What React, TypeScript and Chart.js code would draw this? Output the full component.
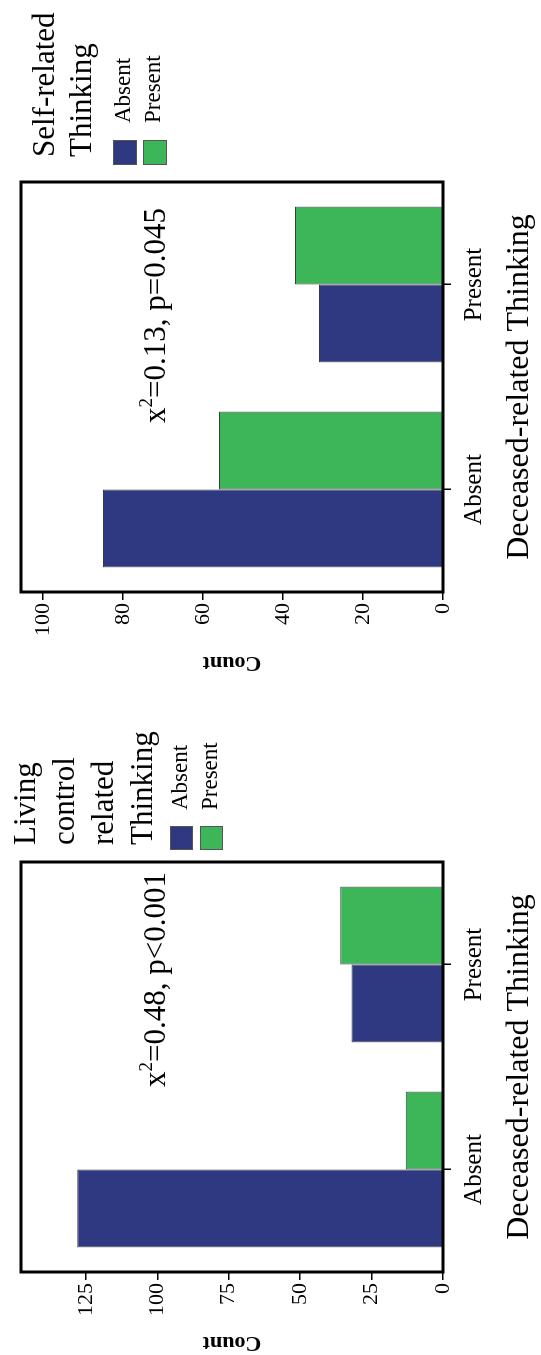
import React, { useEffect, useRef } from 'react';
import { Chart, registerables } from 'chart.js';

Chart.register(...registerables);

// ---------- data ----------
const categories = ['Absent', 'Present'];
const legendLabels = ['Absent', 'Present'];

const selfAbsentCounts = [85, 31];
const selfPresentCounts = [56, 37];
const selfTicks = [0, 20, 40, 60, 80, 100];
const selfAxisMax = 105.5;
const selfLegendTitle = ['Self-related', 'Thinking'];
const selfChi = '0.13';
const selfP = 'p=0.045';

const livingAbsentCounts = [128, 32];
const livingPresentCounts = [13, 36];
const livingTicks = [0, 25, 50, 75, 100, 125];
const livingAxisMax = 147.7;
const livingLegendTitle = ['Living', 'control', 'related', 'Thinking'];
const livingChi = '0.48';
const livingP = 'p<0.001';

const xAxisTitle = 'Deceased-related Thinking';
const yAxisTitle = 'Count';

// ---------- style ----------
const BLUE = '#2f3981';
const GREEN = '#3db65a';
const FONT = '"Liberation Serif", "Times New Roman", serif';
const W = 680;
const H = 541;

Chart.defaults.font.family = FONT;
Chart.defaults.color = '#000';

const framePlugin = {
  id: 'frame',
  afterDatasetsDraw(chart: any) {
    const { ctx, chartArea: a } = chart;
    ctx.save();
    ctx.strokeStyle = '#000';
    ctx.lineWidth = 3;
    ctx.strokeRect(a.left, a.top, a.right - a.left, a.bottom - a.top);
    ctx.restore();
  },
};

const legendPlugin = {
  id: 'customLegend',
  afterDraw(chart: any, _args: any, o: any) {
    const ctx = chart.ctx;
    ctx.save();
    ctx.fillStyle = '#000';
    ctx.textAlign = 'left';
    ctx.textBaseline = 'alphabetic';
    ctx.font = `${o.titleSize}px ${FONT}`;
    (o.title as string[]).forEach((line: string, i: number) => {
      ctx.fillText(line, o.titleX, o.titleBaseline + i * o.titleGap);
    });
    chart.data.datasets.forEach((ds: any, i: number) => {
      const top = o.itemTop + i * o.itemGap;
      ctx.fillStyle = ds.backgroundColor;
      ctx.fillRect(o.boxX, top, o.boxW, o.boxH);
      ctx.strokeStyle = '#555';
      ctx.lineWidth = 1;
      ctx.strokeRect(o.boxX + 0.5, top + 0.5, o.boxW - 1, o.boxH - 1);
      ctx.fillStyle = '#000';
      ctx.font = `${o.labelSize}px ${FONT}`;
      ctx.fillText(ds.label, o.labelX, top + o.labelDy);
    });
    ctx.restore();
  },
};

const statPlugin = {
  id: 'statText',
  afterDraw(chart: any, _args: any, o: any) {
    const ctx = chart.ctx;
    ctx.save();
    ctx.fillStyle = '#000';
    ctx.textAlign = 'left';
    ctx.textBaseline = 'alphabetic';
    const big = `${o.size}px ${FONT}`;
    const small = `${Math.round(o.size * 0.62)}px ${FONT}`;
    const rest = '=' + o.chi + ', ' + o.p;
    ctx.font = big;
    const w1 = ctx.measureText('x').width;
    const w3 = ctx.measureText(rest).width;
    ctx.font = small;
    const w2 = ctx.measureText('2').width;
    const x0 = o.right - (w1 + w2 + w3);
    ctx.font = big;
    ctx.fillText('x', x0, o.baseline);
    ctx.font = small;
    ctx.fillText('2', x0 + w1, o.baseline - o.size * 0.42);
    ctx.font = big;
    ctx.fillText(rest, x0 + w1 + w2, o.baseline);
    ctx.restore();
  },
};

type PanelProps = {
  absent: number[];
  present: number[];
  ticks: number[];
  max: number;
  legendTitle: string[];
  legendOpts: any;
  chi: string;
  p: string;
  statOpts: any;
  top: number;
};

function Panel(props: PanelProps) {
  const ref = useRef<HTMLCanvasElement>(null);
  useEffect(() => {
    const tickValues = props.ticks;
    const chart = new Chart(ref.current as HTMLCanvasElement, {
      type: 'bar',
      data: {
        labels: categories,
        datasets: [
          {
            label: legendLabels[0],
            data: props.absent,
            backgroundColor: BLUE,
            borderColor: '#3a3a3a',
            borderWidth: 1,
            barPercentage: 1,
            categoryPercentage: 0.76,
          },
          {
            label: legendLabels[1],
            data: props.present,
            backgroundColor: GREEN,
            borderColor: '#3a3a3a',
            borderWidth: 1,
            barPercentage: 1,
            categoryPercentage: 0.76,
          },
        ],
      },
      options: {
        responsive: false,
        animation: false,
        devicePixelRatio: 1,
        layout: { padding: { top: 21, right: 182, bottom: 0, left: 0 } },
        plugins: {
          legend: { display: false },
          tooltip: { enabled: false },
          customLegend: { title: props.legendTitle, ...props.legendOpts },
          statText: { chi: props.chi, p: props.p, ...props.statOpts },
        } as any,
        scales: {
          x: {
            type: 'category',
            offset: true,
            grid: {
              offset: false,
              drawOnChartArea: false,
              drawTicks: true,
              tickLength: 8,
              color: '#000',
              lineWidth: 1.5,
            },
            border: { display: false },
            ticks: { font: { size: 25, lineHeight: 1 }, color: '#000', padding: 11 },
            title: {
              display: true,
              text: xAxisTitle,
              font: { size: 32, lineHeight: 1 },
              color: '#000',
              padding: { top: 0, bottom: 5 },
            },
            afterFit: (s: any) => {
              s.height = 98;
            },
          },
          y: {
            min: 0,
            max: props.max,
            afterBuildTicks: (s: any) => {
              s.ticks = tickValues.map((v) => ({ value: v }));
            },
            grid: {
              drawOnChartArea: false,
              drawTicks: true,
              tickLength: 8,
              color: '#000',
              lineWidth: 1.5,
            },
            border: { display: false },
            ticks: { font: { size: 22 }, color: '#000', padding: 3 },
            title: {
              display: true,
              text: yAxisTitle,
              font: { size: 22, weight: 'bold', lineHeight: 1 },
              color: '#000',
              padding: { top: 6.5, bottom: 0 },
            },
            afterFit: (s: any) => {
              s.width = 88;
            },
          },
        } as any,
      },
      plugins: [framePlugin, legendPlugin, statPlugin],
    });
    return () => chart.destroy();
  }, []);
  return (
    <div
      style={{
        position: 'absolute',
        left: 0,
        top: props.top,
        width: W,
        height: H,
        transformOrigin: '0 0',
        transform: `translateY(${W}px) rotate(-90deg)`,
      }}
    >
      <canvas ref={ref} width={W} height={H} style={{ display: 'block', width: W, height: H }} />
    </div>
  );
}

export default function App() {
  return (
    <div
      style={{
        position: 'absolute',
        left: 0,
        top: 0,
        width: 541,
        height: 1355,
        overflow: 'hidden',
        background: '#fff',
      }}
    >
      <Panel
        absent={selfAbsentCounts}
        present={selfPresentCounts}
        ticks={selfTicks}
        max={selfAxisMax}
        legendTitle={selfLegendTitle}
        legendOpts={{
          titleX: 523,
          titleBaseline: 54,
          titleGap: 37,
          titleSize: 31,
          itemTop: 113,
          itemGap: 30,
          boxX: 515,
          boxW: 25,
          boxH: 24,
          labelX: 557,
          labelSize: 23,
          labelDy: 17,
        }}
        chi={selfChi}
        p={selfP}
        statOpts={{ right: 472, baseline: 165, size: 31 }}
        top={0}
      />
      <Panel
        absent={livingAbsentCounts}
        present={livingPresentCounts}
        ticks={livingTicks}
        max={livingAxisMax}
        legendTitle={livingLegendTitle}
        legendOpts={{
          titleX: 515,
          titleBaseline: 35,
          titleGap: 39,
          titleSize: 31,
          itemTop: 170,
          itemGap: 30,
          boxX: 510,
          boxW: 24,
          boxH: 23,
          labelX: 550,
          labelSize: 23,
          labelDy: 17,
        }}
        chi={livingChi}
        p={livingP}
        statOpts={{ right: 488, baseline: 165, size: 31 }}
        top={680}
      />
    </div>
  );
}
